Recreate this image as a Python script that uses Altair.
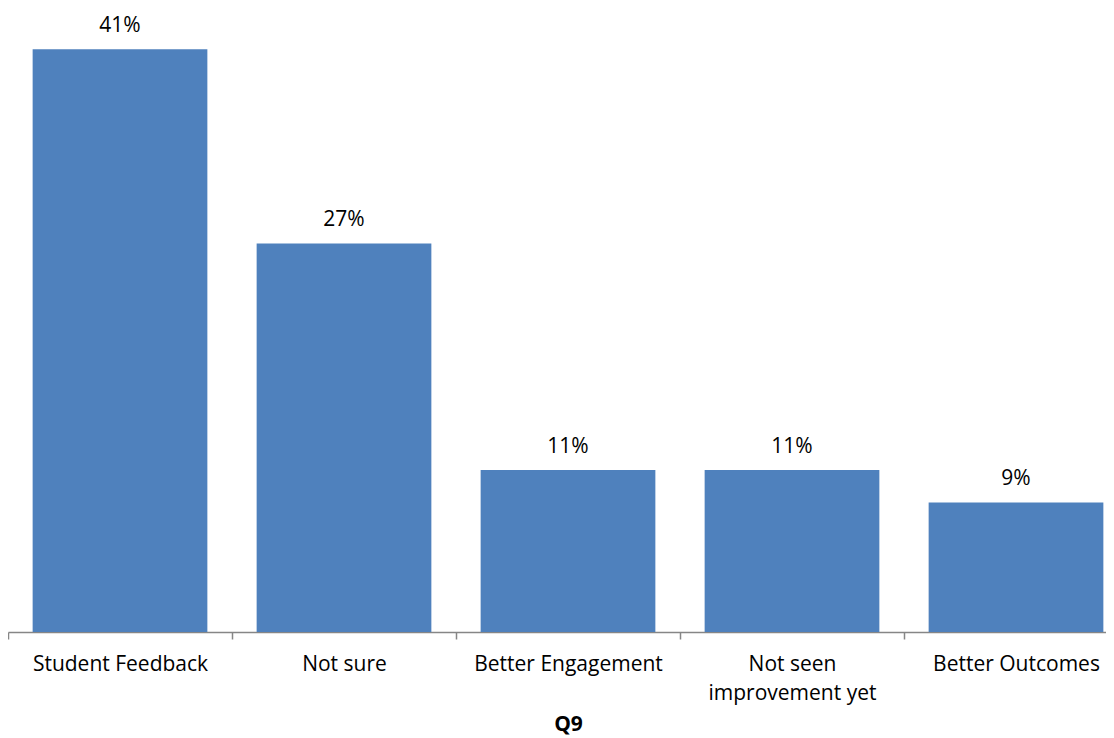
import altair as alt
import pandas as pd

categories = ["Student Feedback", "Not sure", "Better Engagement", "Not seen|improvement yet", "Better Outcomes"]
values = [18/44, 12/44, 5/44, 5/44, 4/44]
labels = ["41%", "27%", "11%", "11%", "9%"]

df = pd.DataFrame({"cat": categories, "val": values, "lab": labels})

FONT = "Open Sans"

x = alt.X("cat:N", sort=None,
          scale=alt.Scale(range=[0, 1120], paddingInner=0, paddingOuter=0),
          axis=alt.Axis(title="Q9", labelAngle=0, labelExpr="split(datum.label, '|')",
                        tickBand="extent", tickSize=7, tickColor="#868686",
                        domainColor="#868686", domainWidth=1.5, tickWidth=1.5,
                        labelFont=FONT, labelFontSize=21, labelColor="#000000",
                        labelLineHeight=29, labelPadding=14, labelLimit=400,
                        titleFont=FONT, titleFontSize=21, titleFontWeight="bold",
                        titleColor="#000000", titlePadding=10))
y = alt.Y("val:Q", scale=alt.Scale(domain=[0, 0.438], nice=False), axis=None)

bars = alt.Chart(df).mark_bar(color="#4F81BD", width=alt.RelativeBandSize(0.78)).encode(x=x, y=y)
text = alt.Chart(df).mark_text(baseline="alphabetic", dy=-17, font=FONT, fontSize=21,
                               color="#000000").encode(x=x, y=y, text="lab:N")

chart = (bars + text).properties(
    width=1098, height=624,
    padding={"left": 0, "top": 0, "right": 0, "bottom": 106},
    autosize=alt.AutoSizeParams(type="none"),
    background="#ffffff").configure_view(stroke=None)

chart.save("out.html", embed_options={"renderer": "svg", "actions": False})
